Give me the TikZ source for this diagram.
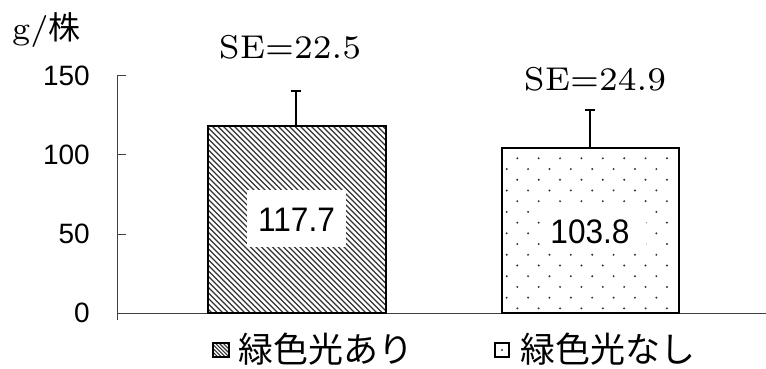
\documentclass[tikz,border=0pt]{standalone}
\usepackage{fontspec}
\usepackage{graphicx}
\newfontfamily\jp{Noto Sans CJK JP}
\newfontfamily\ls{Liberation Sans}
\newfontfamily\sefont{lmroman7-regular}[Extension=.otf]
\begin{document}
\begin{tikzpicture}[x=1pt,y=-1pt,
  axisline/.style={line width=1pt, black!75},
  barframe/.style={draw=black, line width=2.6pt},
  hatchline/.style={line width=1.3pt, black!80},
  errbar/.style={line width=2pt},
  dotc/.style={black!80},
  ticklab/.style={anchor=east, inner sep=0pt, font={\ls\fontsize{28}{28}\selectfont}},
  vallab/.style={anchor=base, inner sep=0pt, font={\ls\fontsize{34}{34}\selectfont}},
  selab/.style={anchor=base, inner sep=0pt, font={\sefont\fontsize{33}{33}\selectfont}},
  leglab/.style={anchor=base west, inner sep=0pt, font={\jp\fontsize{35}{35}\selectfont}}]
\useasboundingbox (0,0) rectangle (766,369);

% axes
\coordinate (ytop) at (117,76);
\coordinate (ybot) at (117,320);
\coordinate (xl) at (117,313);
\coordinate (xr) at (766,313);
\draw[axisline] (ytop) -- (ybot);
\draw[axisline] (xl) -- (xr);
\foreach \v/\yy in {150/76,100/154.5,50/234,0/313} {
  \draw[axisline] (117,\yy) -- (126,\yy);
  \node[ticklab] (t\v) at (90,\yy) {\v};
}
\node[anchor=base west, inner sep=0pt, font={\sefont\fontsize{32}{32}\selectfont}] (unit) at (12,40) {g/{\jp\fontsize{32}{32}\selectfont 株}};

% bar 1 (hatched)
\begin{scope}
  \clip (208,126) rectangle (386,313);
  \foreach \i in {0,...,72} \draw[hatchline] ({8+5.5*\i},120) -- ++(200,200);
\end{scope}
\fill[white] (247,190) rectangle (346,247);
\node[vallab] (v1) at (296.5,231.7) {\scalebox{0.93}[1]{117.7}};
\draw[barframe] (208,126) rectangle (386,313);

% bar 2 (dotted)
\foreach \r in {0,...,14} {
  \pgfmathsetmacro\yy{158.3+10.72*\r}
  \pgfmathsetmacro\xs{mod(\r,2)==0 ? 517.3 : 506.7}
  \foreach \k in {0,...,7} { \fill[dotc] ({\xs+21.38*\k},\yy) circle (1.1); }
}
\fill[white] (540,204) rectangle (646,253);
\node[vallab] (v2) at (590,243.3) {\scalebox{0.93}[1]{103.8}};
\draw[barframe] (502,148) rectangle (679,313);

% error bars
\coordinate (b1top) at (296,126);
\coordinate (e1) at (296,91);
\draw[errbar] (b1top) -- (e1);
\draw[errbar] ([xshift=-5pt]e1) -- ([xshift=5pt]e1);
\coordinate (b2top) at (590,148);
\coordinate (e2) at (590,110);
\draw[errbar] (b2top) -- (e2);
\draw[errbar] ([xshift=-5pt]e2) -- ([xshift=5pt]e2);

% SE labels
\node[selab] (se1) at (290,58.5) {SE=22.5};
\node[selab] (se2) at (595,90) {SE=24.9};

% legend
\begin{scope}
  \clip (213,343) rectangle (229,357);
  \foreach \i in {0,...,10} \draw[line width=1.1pt, black!80] ({197+3.8*\i},340) -- ++(20,20);
\end{scope}
\draw[line width=1.6pt] (213,343) rectangle (229,357);
\node[leglab] (l1) at (238.5,362) {緑色光あり};
\draw[line width=1.6pt] (495,343) rectangle (509,357);
\fill[dotc] (502,350) circle (1.1);
\node[leglab] (l2) at (520,362) {緑色光なし};
\end{tikzpicture}
\end{document}
